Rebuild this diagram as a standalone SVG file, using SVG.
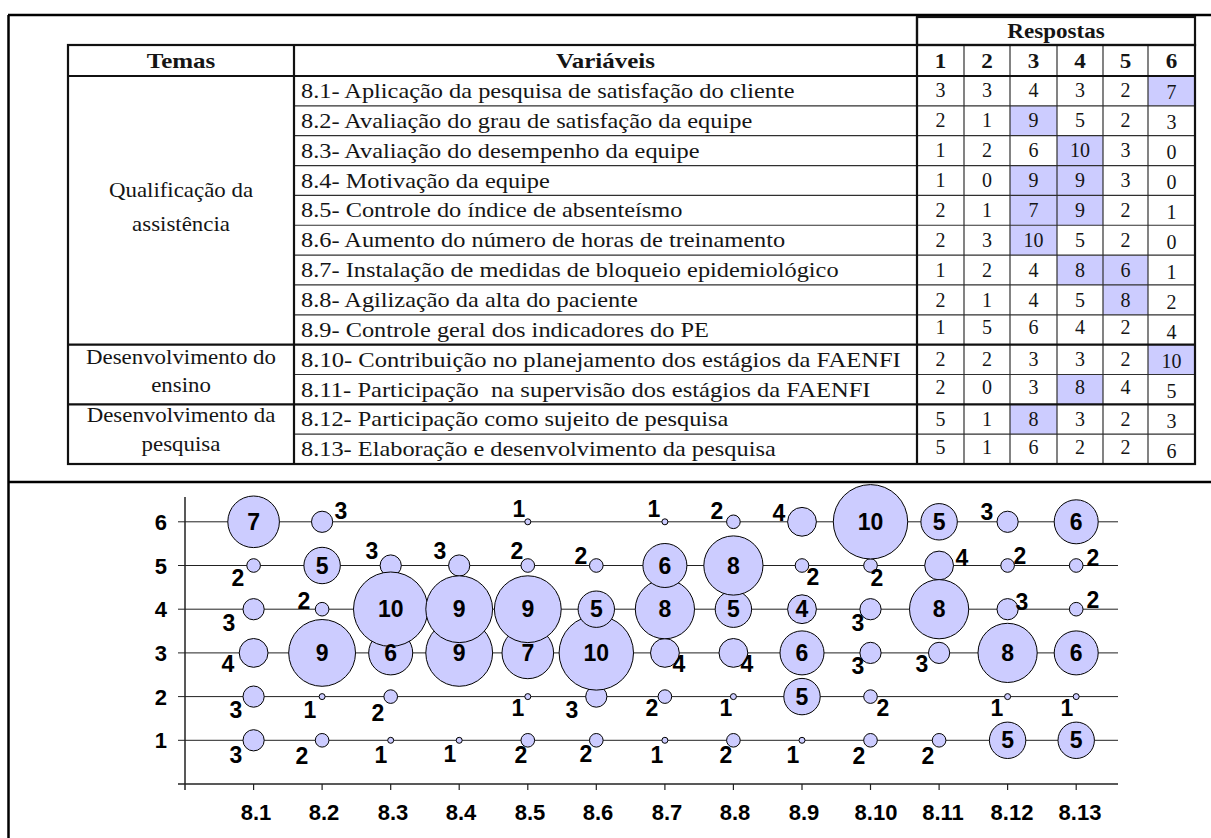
<svg xmlns="http://www.w3.org/2000/svg" width="1211" height="838" viewBox="0 0 1211 838">
<style>
.tt{font-family:"Liberation Serif","Times New Roman",serif;font-size:21px;fill:#151515}
.tv{font-family:"Liberation Serif","Times New Roman",serif;font-size:21px;fill:#151515}
.tn{font-family:"Liberation Serif","Times New Roman",serif;font-size:20px;fill:#151515;text-anchor:middle}
.th{font-weight:bold}
.m{text-anchor:middle}
.hl{fill:#ccccff}
.thin{stroke:#303030;stroke-width:1.2;fill:none}
.thick{stroke:#111;stroke-width:2.2;fill:none}
.fr{stroke:#000;stroke-width:2.5;fill:none}
.b{fill:#ccccff;stroke:#000;stroke-width:1}
.lb{font-family:"Liberation Sans",Arial,sans-serif;font-weight:bold;font-size:23px;fill:#000;text-anchor:middle}
.ax{font-family:"Liberation Sans",Arial,sans-serif;font-weight:bold;font-size:22px;fill:#000}
.grid{stroke:#222;stroke-width:1}
</style>
<rect width="1211" height="838" fill="#fff"/>
<g id="frame">
<line class="fr" x1="8" y1="15" x2="1211" y2="15"/>
<line class="fr" x1="8.5" y1="15" x2="8.5" y2="838"/>
<line class="fr" x1="8" y1="482" x2="1211" y2="482"/>
</g>
<g id="table">
<g id="highlights">
<rect class="hl" x="1148" y="76" width="47" height="29.85"/>
<rect class="hl" x="1010" y="105.85" width="47" height="29.85"/>
<rect class="hl" x="1057" y="135.7" width="46" height="29.85"/>
<rect class="hl" x="1010" y="165.55" width="93" height="59.7"/>
<rect class="hl" x="1010" y="225.25" width="47" height="29.85"/>
<rect class="hl" x="1057" y="255.1" width="91" height="29.85"/>
<rect class="hl" x="1103" y="284.95" width="45" height="29.85"/>
<rect class="hl" x="1148" y="344.65" width="47" height="29.85"/>
<rect class="hl" x="1057" y="374.5" width="46" height="29.85"/>
<rect class="hl" x="1010" y="404.35" width="47" height="29.85"/>
</g>
<g id="table-lines">
<line class="thin" x1="294" y1="105.85" x2="1195" y2="105.85"/>
<line class="thin" x1="294" y1="135.7" x2="1195" y2="135.7"/>
<line class="thin" x1="294" y1="165.55" x2="1195" y2="165.55"/>
<line class="thin" x1="294" y1="195.4" x2="1195" y2="195.4"/>
<line class="thin" x1="294" y1="225.25" x2="1195" y2="225.25"/>
<line class="thin" x1="294" y1="255.1" x2="1195" y2="255.1"/>
<line class="thin" x1="294" y1="284.95" x2="1195" y2="284.95"/>
<line class="thin" x1="294" y1="314.8" x2="1195" y2="314.8"/>
<line class="thin" x1="294" y1="374.5" x2="1195" y2="374.5"/>
<line class="thin" x1="294" y1="434.2" x2="1195" y2="434.2"/>
<line class="thin" x1="964" y1="45" x2="964" y2="464"/>
<line class="thin" x1="1010" y1="45" x2="1010" y2="464"/>
<line class="thin" x1="1057" y1="45" x2="1057" y2="464"/>
<line class="thin" x1="1103" y1="45" x2="1103" y2="464"/>
<line class="thin" x1="1148" y1="45" x2="1148" y2="464"/>
<line class="thick" x1="68" y1="76" x2="1195" y2="76"/>
<line class="thick" x1="68" y1="344.65" x2="1195" y2="344.65"/>
<line class="thick" x1="68" y1="404.35" x2="1195" y2="404.35"/>
<line class="thick" x1="294" y1="45" x2="294" y2="464"/>
<line class="thick" x1="917" y1="17" x2="917" y2="464"/>
<rect class="thick" x="68" y="45" width="1127" height="419"/>
<rect class="thick" x="917" y="17" width="278" height="28"/>
</g>
<g id="table-header">
<text class="tv th m" transform="translate(1056 38) scale(1.1 1)">Respostas</text>
<text class="tv th m" transform="translate(181 68) scale(1.19 1)">Temas</text>
<text class="tv th m" transform="translate(605.5 68) scale(1.19 1)">Variáveis</text>
<text class="tv th m" transform="translate(940.5 68) scale(1.1 1)">1</text>
<text class="tv th m" transform="translate(987 68) scale(1.1 1)">2</text>
<text class="tv th m" transform="translate(1033.5 68) scale(1.1 1)">3</text>
<text class="tv th m" transform="translate(1080 68) scale(1.1 1)">4</text>
<text class="tv th m" transform="translate(1125.5 68) scale(1.1 1)">5</text>
<text class="tv th m" transform="translate(1171.5 68) scale(1.1 1)">6</text>
</g>
<g id="temas">
<text class="tt m" transform="translate(181 197) scale(1.09 1)">Qualificação da</text>
<text class="tt m" transform="translate(181 231) scale(1.09 1)">assistência</text>
<text class="tt m" transform="translate(181 364) scale(1.09 1)">Desenvolvimento do</text>
<text class="tt m" transform="translate(181 392) scale(1.09 1)">ensino</text>
<text class="tt m" transform="translate(181 422) scale(1.09 1)">Desenvolvimento da</text>
<text class="tt m" transform="translate(181 451) scale(1.09 1)">pesquisa</text>
</g>
<g id="variaveis">
<text class="tv" transform="translate(301 97.9) scale(1.16 1)">8.1- Aplicação da pesquisa de satisfação do cliente</text>
<text class="tv" transform="translate(301 127.8) scale(1.16 1)">8.2- Avaliação do grau de satisfação da equipe</text>
<text class="tv" transform="translate(301 157.6) scale(1.16 1)">8.3- Avaliação do desempenho da equipe</text>
<text class="tv" transform="translate(301 187.5) scale(1.16 1)">8.4- Motivação da equipe</text>
<text class="tv" transform="translate(301 217.4) scale(1.16 1)">8.5- Controle do índice de absenteísmo</text>
<text class="tv" transform="translate(301 247.2) scale(1.16 1)">8.6- Aumento do número de horas de treinamento</text>
<text class="tv" transform="translate(301 277.1) scale(1.16 1)">8.7- Instalação de medidas de bloqueio epidemiológico</text>
<text class="tv" transform="translate(301 307) scale(1.16 1)">8.8- Agilização da alta do paciente</text>
<text class="tv" transform="translate(301 336.8) scale(1.16 1)">8.9- Controle geral dos indicadores do PE</text>
<text class="tv" transform="translate(301 366.7) scale(1.17 1)">8.10- Contribuição no planejamento dos estágios da FAENFI</text>
<text class="tv" transform="translate(301 396.5) scale(1.17 1)" xml:space="preserve">8.11- Participação  na supervisão dos estágios da FAENFI</text>
<text class="tv" transform="translate(301 426.4) scale(1.16 1)">8.12- Participação como sujeito de pesquisa</text>
<text class="tv" transform="translate(301 456.3) scale(1.16 1)">8.13- Elaboração e desenvolvimento da pesquisa</text>
</g>
<g id="respostas">
<text class="tn" x="940.5" y="97.4">3</text><text class="tn" x="987" y="97.4">3</text><text class="tn" x="1033.5" y="97.4">4</text><text class="tn" x="1080" y="97.4">3</text><text class="tn" x="1125.5" y="97.4">2</text><text class="tn" x="1171.5" y="99">7</text>
<text class="tn" x="940.5" y="127.3">2</text><text class="tn" x="987" y="127.3">1</text><text class="tn" x="1033.5" y="127.3">9</text><text class="tn" x="1080" y="127.3">5</text><text class="tn" x="1125.5" y="127.3">2</text><text class="tn" x="1171.5" y="129">3</text>
<text class="tn" x="940.5" y="157.1">1</text><text class="tn" x="987" y="157.1">2</text><text class="tn" x="1033.5" y="157.1">6</text><text class="tn" x="1080" y="157.1">10</text><text class="tn" x="1125.5" y="157.1">3</text><text class="tn" x="1171.5" y="159">0</text>
<text class="tn" x="940.5" y="187">1</text><text class="tn" x="987" y="187">0</text><text class="tn" x="1033.5" y="187">9</text><text class="tn" x="1080" y="187">9</text><text class="tn" x="1125.5" y="187">3</text><text class="tn" x="1171.5" y="189">0</text>
<text class="tn" x="940.5" y="216.9">2</text><text class="tn" x="987" y="216.9">1</text><text class="tn" x="1033.5" y="216.9">7</text><text class="tn" x="1080" y="216.9">9</text><text class="tn" x="1125.5" y="216.9">2</text><text class="tn" x="1171.5" y="219">1</text>
<text class="tn" x="940.5" y="246.7">2</text><text class="tn" x="987" y="246.7">3</text><text class="tn" x="1033.5" y="246.7">10</text><text class="tn" x="1080" y="246.7">5</text><text class="tn" x="1125.5" y="246.7">2</text><text class="tn" x="1171.5" y="249">0</text>
<text class="tn" x="940.5" y="276.6">1</text><text class="tn" x="987" y="276.6">2</text><text class="tn" x="1033.5" y="276.6">4</text><text class="tn" x="1080" y="276.6">8</text><text class="tn" x="1125.5" y="276.6">6</text><text class="tn" x="1171.5" y="279">1</text>
<text class="tn" x="940.5" y="306.5">2</text><text class="tn" x="987" y="306.5">1</text><text class="tn" x="1033.5" y="306.5">4</text><text class="tn" x="1080" y="306.5">5</text><text class="tn" x="1125.5" y="306.5">8</text><text class="tn" x="1171.5" y="309">2</text>
<text class="tn" x="940.5" y="334.3">1</text><text class="tn" x="987" y="334.3">5</text><text class="tn" x="1033.5" y="334.3">6</text><text class="tn" x="1080" y="334.3">4</text><text class="tn" x="1125.5" y="334.3">2</text><text class="tn" x="1171.5" y="339">4</text>
<text class="tn" x="940.5" y="366.2">2</text><text class="tn" x="987" y="366.2">2</text><text class="tn" x="1033.5" y="366.2">3</text><text class="tn" x="1080" y="366.2">3</text><text class="tn" x="1125.5" y="366.2">2</text><text class="tn" x="1171.5" y="368">10</text>
<text class="tn" x="940.5" y="394">2</text><text class="tn" x="987" y="394">0</text><text class="tn" x="1033.5" y="394">3</text><text class="tn" x="1080" y="394">8</text><text class="tn" x="1125.5" y="394">4</text><text class="tn" x="1171.5" y="398">5</text>
<text class="tn" x="940.5" y="425.9">5</text><text class="tn" x="987" y="425.9">1</text><text class="tn" x="1033.5" y="425.9">8</text><text class="tn" x="1080" y="425.9">3</text><text class="tn" x="1125.5" y="425.9">2</text><text class="tn" x="1171.5" y="428">3</text>
<text class="tn" x="940.5" y="453.8">5</text><text class="tn" x="987" y="453.8">1</text><text class="tn" x="1033.5" y="453.8">6</text><text class="tn" x="1080" y="453.8">2</text><text class="tn" x="1125.5" y="453.8">2</text><text class="tn" x="1171.5" y="458">6</text>
</g>
</g>
<g id="chart-axes">
<line class="grid" x1="178" y1="740.3" x2="1118" y2="740.3"/>
<line class="grid" x1="178" y1="696.6" x2="1118" y2="696.6"/>
<line class="grid" x1="178" y1="652.9" x2="1118" y2="652.9" stroke="#888"/>
<line class="grid" x1="178" y1="609.2" x2="1118" y2="609.2"/>
<line class="grid" x1="178" y1="565.5" x2="1118" y2="565.5"/>
<line class="grid" x1="178" y1="521.8" x2="1118" y2="521.8"/>
<line stroke="#222" stroke-width="1.5" x1="185" y1="497" x2="185" y2="790"/>
<line stroke="#222" stroke-width="1.5" x1="178" y1="784" x2="1118" y2="784"/>
<path stroke="#222" stroke-width="1.2" fill="none" d="M253.6 784V790M322.1 784V790M390.7 784V790M459.2 784V790M527.8 784V790M596.3 784V790M664.9 784V790M733.4 784V790M802 784V790M870.5 784V790M939.1 784V790M1007.6 784V790M1076.2 784V790"/>
<text class="ax" text-anchor="end" x="167" y="748.3">1</text>
<text class="ax" text-anchor="end" x="167" y="704.6">2</text>
<text class="ax" text-anchor="end" x="167" y="660.9">3</text>
<text class="ax" text-anchor="end" x="167" y="617.2">4</text>
<text class="ax" text-anchor="end" x="167" y="573.5">5</text>
<text class="ax" text-anchor="end" x="167" y="529.8">6</text>
<text class="ax" text-anchor="middle" x="256" y="820">8.1</text>
<text class="ax" text-anchor="middle" x="324" y="820">8.2</text>
<text class="ax" text-anchor="middle" x="393" y="820">8.3</text>
<text class="ax" text-anchor="middle" x="461" y="820">8.4</text>
<text class="ax" text-anchor="middle" x="530" y="820">8.5</text>
<text class="ax" text-anchor="middle" x="598" y="820">8.6</text>
<text class="ax" text-anchor="middle" x="667" y="820">8.7</text>
<text class="ax" text-anchor="middle" x="735" y="820">8.8</text>
<text class="ax" text-anchor="middle" x="804" y="820">8.9</text>
<text class="ax" text-anchor="middle" x="876" y="820">8.10</text>
<text class="ax" text-anchor="middle" x="943" y="820">8.11</text>
<text class="ax" text-anchor="middle" x="1012" y="820">8.12</text>
<text class="ax" text-anchor="middle" x="1080" y="820">8.13</text>
</g>
<g id="col-8-1">
<circle class="b" cx="253.6" cy="565.5" r="6.8"/><circle class="b" cx="253.6" cy="740.3" r="10.6"/><circle class="b" cx="253.6" cy="696.6" r="10.6"/><circle class="b" cx="253.6" cy="609.2" r="10.6"/><circle class="b" cx="253.6" cy="652.9" r="14.4"/><circle class="b" cx="253.6" cy="521.8" r="25.8"/>
</g>
<g id="col-8-2">
<circle class="b" cx="322.1" cy="696.6" r="3"/><circle class="b" cx="322.1" cy="740.3" r="6.8"/><circle class="b" cx="322.1" cy="609.2" r="6.8"/><circle class="b" cx="322.1" cy="521.8" r="10.6"/><circle class="b" cx="322.1" cy="565.5" r="18.2"/><circle class="b" cx="322.1" cy="652.9" r="33.4"/>
</g>
<g id="col-8-3">
<circle class="b" cx="390.7" cy="740.3" r="3"/><circle class="b" cx="390.7" cy="696.6" r="6.8"/><circle class="b" cx="390.7" cy="565.5" r="10.6"/><circle class="b" cx="390.7" cy="652.9" r="22"/><circle class="b" cx="390.7" cy="609.2" r="37.2"/>
</g>
<g id="col-8-4">
<circle class="b" cx="459.2" cy="740.3" r="3"/><circle class="b" cx="459.2" cy="565.5" r="10.6"/><circle class="b" cx="459.2" cy="652.9" r="33.4"/><circle class="b" cx="459.2" cy="609.2" r="33.4"/>
</g>
<g id="col-8-5">
<circle class="b" cx="527.8" cy="696.6" r="3"/><circle class="b" cx="527.8" cy="521.8" r="3"/><circle class="b" cx="527.8" cy="740.3" r="6.8"/><circle class="b" cx="527.8" cy="565.5" r="6.8"/><circle class="b" cx="527.8" cy="652.9" r="25.8"/><circle class="b" cx="527.8" cy="609.2" r="33.4"/>
</g>
<g id="col-8-6">
<circle class="b" cx="596.3" cy="740.3" r="6.8"/><circle class="b" cx="596.3" cy="565.5" r="6.8"/><circle class="b" cx="596.3" cy="696.6" r="10.6"/><circle class="b" cx="596.3" cy="652.9" r="37.2"/><circle class="b" cx="596.3" cy="609.2" r="18.2"/>
</g>
<g id="col-8-7">
<circle class="b" cx="664.9" cy="740.3" r="3"/><circle class="b" cx="664.9" cy="521.8" r="3"/><circle class="b" cx="664.9" cy="696.6" r="6.8"/><circle class="b" cx="664.9" cy="652.9" r="14.4"/><circle class="b" cx="664.9" cy="609.2" r="29.6"/><circle class="b" cx="664.9" cy="565.5" r="22"/>
</g>
<g id="col-8-8">
<circle class="b" cx="733.4" cy="696.6" r="3"/><circle class="b" cx="733.4" cy="740.3" r="6.8"/><circle class="b" cx="733.4" cy="521.8" r="6.8"/><circle class="b" cx="733.4" cy="652.9" r="14.4"/><circle class="b" cx="733.4" cy="609.2" r="18.2"/><circle class="b" cx="733.4" cy="565.5" r="29.6"/>
</g>
<g id="col-8-9">
<circle class="b" cx="802" cy="740.3" r="3"/><circle class="b" cx="802" cy="565.5" r="6.8"/><circle class="b" cx="802" cy="609.2" r="14.4"/><circle class="b" cx="802" cy="521.8" r="14.4"/><circle class="b" cx="802" cy="696.6" r="18.2"/><circle class="b" cx="802" cy="652.9" r="22"/>
</g>
<g id="col-8-10">
<circle class="b" cx="870.5" cy="740.3" r="6.8"/><circle class="b" cx="870.5" cy="696.6" r="6.8"/><circle class="b" cx="870.5" cy="565.5" r="6.8"/><circle class="b" cx="870.5" cy="652.9" r="10.6"/><circle class="b" cx="870.5" cy="609.2" r="10.6"/><circle class="b" cx="870.5" cy="521.8" r="37.2"/>
</g>
<g id="col-8-11">
<circle class="b" cx="939.1" cy="740.3" r="6.8"/><circle class="b" cx="939.1" cy="652.9" r="10.6"/><circle class="b" cx="939.1" cy="565.5" r="14.4"/><circle class="b" cx="939.1" cy="521.8" r="18.2"/><circle class="b" cx="939.1" cy="609.2" r="29.6"/>
</g>
<g id="col-8-12">
<circle class="b" cx="1007.6" cy="696.6" r="3"/><circle class="b" cx="1007.6" cy="565.5" r="6.8"/><circle class="b" cx="1007.6" cy="609.2" r="10.6"/><circle class="b" cx="1007.6" cy="521.8" r="10.6"/><circle class="b" cx="1007.6" cy="740.3" r="18.2"/><circle class="b" cx="1007.6" cy="652.9" r="29.6"/>
</g>
<g id="col-8-13">
<circle class="b" cx="1076.2" cy="696.6" r="3"/><circle class="b" cx="1076.2" cy="609.2" r="6.8"/><circle class="b" cx="1076.2" cy="565.5" r="6.8"/><circle class="b" cx="1076.2" cy="740.3" r="18.2"/><circle class="b" cx="1076.2" cy="652.9" r="22"/><circle class="b" cx="1076.2" cy="521.8" r="22"/>
</g>
<g id="bubble-labels">
<text class="lb" x="253.6" y="530">7</text><text class="lb" x="236" y="763">3</text><text class="lb" x="236" y="718">3</text><text class="lb" x="228" y="672">4</text><text class="lb" x="229" y="631">3</text><text class="lb" x="238" y="586">2</text>
<text class="lb" x="322.1" y="661">9</text><text class="lb" x="322.1" y="574">5</text><text class="lb" x="302" y="764">2</text><text class="lb" x="310" y="718">1</text><text class="lb" x="304" y="609">2</text><text class="lb" x="341" y="519">3</text>
<text class="lb" x="390.7" y="661">6</text><text class="lb" x="390.7" y="617">10</text><text class="lb" x="381" y="763">1</text><text class="lb" x="378" y="721">2</text><text class="lb" x="372" y="559">3</text>
<text class="lb" x="459.2" y="661">9</text><text class="lb" x="459.2" y="617">9</text><text class="lb" x="450" y="762">1</text><text class="lb" x="440" y="559">3</text>
<text class="lb" x="527.8" y="661">7</text><text class="lb" x="527.8" y="617">9</text><text class="lb" x="521" y="763">2</text><text class="lb" x="518" y="716">1</text><text class="lb" x="517" y="559">2</text><text class="lb" x="519" y="517">1</text>
<text class="lb" x="596.3" y="661">10</text><text class="lb" x="596.3" y="617">5</text><text class="lb" x="586" y="762">2</text><text class="lb" x="572" y="718">3</text><text class="lb" x="581" y="564">2</text>
<text class="lb" x="664.9" y="617">8</text><text class="lb" x="664.9" y="574">6</text><text class="lb" x="657" y="763">1</text><text class="lb" x="652" y="716">2</text><text class="lb" x="679" y="672">4</text><text class="lb" x="654" y="517">1</text>
<text class="lb" x="733.4" y="617">5</text><text class="lb" x="733.4" y="574">8</text><text class="lb" x="726" y="763">2</text><text class="lb" x="726" y="716">1</text><text class="lb" x="747" y="672">4</text><text class="lb" x="717" y="519">2</text>
<text class="lb" x="802" y="705">5</text><text class="lb" x="802" y="661">6</text><text class="lb" x="802" y="617">4</text><text class="lb" x="793" y="763">1</text><text class="lb" x="813" y="585">2</text><text class="lb" x="779" y="521">4</text>
<text class="lb" x="870.5" y="530">10</text><text class="lb" x="859" y="764">2</text><text class="lb" x="883" y="716">2</text><text class="lb" x="858" y="674">3</text><text class="lb" x="858" y="631">3</text><text class="lb" x="877" y="586">2</text>
<text class="lb" x="939.1" y="617">8</text><text class="lb" x="939.1" y="530">5</text><text class="lb" x="928" y="764">2</text><text class="lb" x="922" y="672">3</text><text class="lb" x="962" y="566">4</text>
<text class="lb" x="1007.6" y="748">5</text><text class="lb" x="1007.6" y="661">8</text><text class="lb" x="997" y="716">1</text><text class="lb" x="1022" y="610">3</text><text class="lb" x="1020" y="564">2</text><text class="lb" x="987" y="520">3</text>
<text class="lb" x="1076.2" y="748">5</text><text class="lb" x="1076.2" y="661">6</text><text class="lb" x="1076.2" y="530">6</text><text class="lb" x="1067" y="716">1</text><text class="lb" x="1093" y="608">2</text><text class="lb" x="1093" y="566">2</text>
</g>
</svg>
